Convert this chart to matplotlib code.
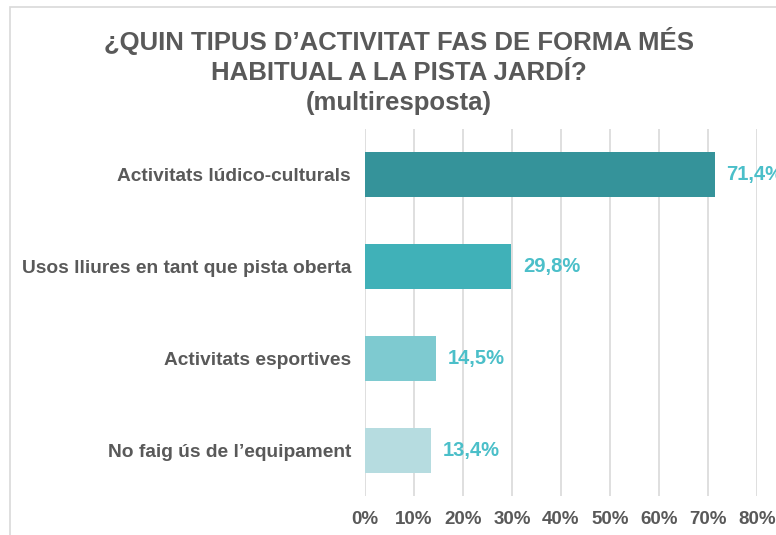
import matplotlib.pyplot as plt
from matplotlib.patches import Rectangle

# data
categories = ["Activitats lúdico-culturals", "Usos lliures en tant que pista oberta",
              "Activitats esportives", "No faig ús de l’equipament"]
values = [71.4, 29.8, 14.5, 13.4]
value_labels = ["71,4%", "29,8%", "14,5%", "13,4%"]
bar_colors = ["#35939A", "#40B1B8", "#7ECAD0", "#B6DCE0"]
xticks = [0, 10, 20, 30, 40, 50, 60, 70, 80]
xtick_labels = [f"{t}%" for t in xticks]

title = "¿QUIN TIPUS D’ACTIVITAT FAS DE FORMA MÉS\nHABITUAL A LA PISTA JARDÍ?\n(multiresposta)"

plt.rcParams['font.family'] = ['Liberation Sans', 'DejaVu Sans']
txt = "#595959"

fig = plt.figure(figsize=(7.76, 5.35), dpi=100)
fig.patches.append(Rectangle((10/776, -0.1), 1.2, 1 - 7/535 + 0.1, transform=fig.transFigure,
                             fill=False, edgecolor="#D9D9D9", linewidth=1.2))

ax = fig.add_axes([365/776, 1 - 496/535, 392/776, 367/535])
pos = list(range(len(categories)))
ax.barh(pos, values, height=0.49, color=bar_colors, zorder=3)
ax.set_ylim(3.5, -0.5)
ax.set_xlim(0, 80)
ax.set_xticks(xticks)
ax.set_xticklabels(xtick_labels, fontsize=13.5, fontweight='bold', color=txt)
ax.set_yticks(pos)
ax.set_yticklabels(categories, fontsize=13.8, fontweight='bold', color=txt)
ax.tick_params(axis='x', length=0, pad=11)
ax.tick_params(axis='y', length=0, pad=10)
ax.grid(axis='x', color="#D9D9D9", linewidth=1.2, zorder=0)
for s in ax.spines.values():
    s.set_visible(False)

for p, v, lab in zip(pos, values, value_labels):
    ax.text(v + 2.4, p, lab, va='center', ha='left', fontsize=14.5, fontweight='bold',
            color="#4BBFC9", clip_on=False)

fig.text(399/776, 1 - 71/535, title, ha='center', va='center', fontsize=18.5,
         fontweight='bold', color=txt, linespacing=1.3)

fig.savefig("out.png", dpi=100)
